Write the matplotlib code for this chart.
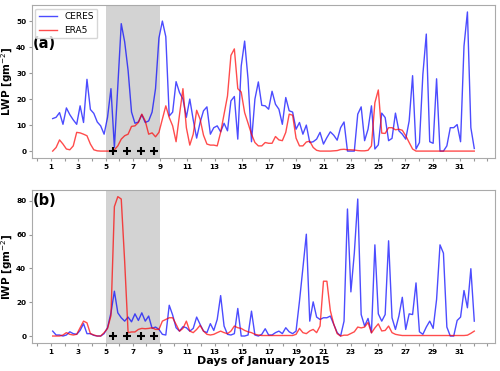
import numpy as np
import matplotlib.pyplot as plt

# 6-hourly values, 1-32 January 2015
days = np.linspace(1.12, 32.05, 124)

lwp_ceres = [12.5, 13, 14.8, 10.3, 16.6, 14, 12, 10.3, 17.4, 11, 27.6, 16, 14.5, 11.2, 9.7, 6.5,
             13, 24, 1.4, 25, 49, 42, 31, 15, 10.7, 11.2, 14, 11, 11.6, 15, 24, 43.5, 50, 44, 13.5,
             15, 26.7, 22.5, 20, 13, 20,
             12, 5, 11, 15.5, 17, 6.5, 9, 9.7, 7.4, 10.7, 7.8, 19.3, 21, 4.6, 32.7, 42.3, 27.6, 3.6,
             20, 26.6, 17.6, 17.4, 16.1, 23, 18, 16.1, 10.3, 20.6, 15.5, 15, 8.4, 11, 6.5, 10, 3.3,
             3.6, 4.6, 7.2, 2.7, 5.2, 7.4, 6.1, 4.2, 9,
             11.2,
             0, 0, 0, 14.2, 17, 4, 8.4, 17.4, 0.8, 2.4, 14.6, 12.9, 4, 4.9, 14.6, 7.8, 6.5, 4.6, 11.6,
             29, 0.8, 3.3, 29.5, 45, 3.6, 3, 27.8, 0, 0, 2, 9, 9, 10.2, 3.6, 40.4, 53.5, 9, 1]

lwp_era5 = [0, 1.4, 4.3, 2.7, 0.8, 0.5, 2, 7.2, 7, 6.5, 5.9, 2.7, 0.5, 0.1, 0, 0, 0, 0, 0.5, 2,
            4.6, 5.9, 6.5, 9.5, 9.7, 11, 14.2, 11.6, 6.5, 7, 5.5, 7.2, 12.3, 17.4, 12.9, 9.7, 3.6, 14,
            24, 9, 2.3, 6.5, 15.7, 12.3, 6.1, 2.7, 2.3, 2.3, 2, 7.2, 14.2, 21.2, 36.8, 39.3, 24, 22.7,
            14.8, 10.7, 6.5, 3.3, 2, 2, 3.3, 3, 3, 5.6, 4.3, 4, 7.2, 14.2, 13.8, 5, 2, 2, 3.5, 3.8,
            1.4, 0.3,
            0, 0, 0, 0, 0.1, 0.2, 0.6, 0.7, 0.5, 0.5, 0.4, 0.2, 0.1, 0.1, 0.3, 2, 18.6, 23.5, 6.9,
            6.8, 9, 9, 8.2, 8.4, 8, 5.9, 3.3, 0.8,
            0, 0, 0, 0, 0, 0, 0, 0, 0, 0, 0, 0, 0, 0, 0, 0, 0, 0]

iwp_ceres = [2.9, 0.6, 0.6, 0, 0.6, 2.5, 1.4, 1, 3.3, 7.3, 1.4, 1.4, 0.4, 0, 0, 1.4, 4.9, 13.7,
             26.5, 13.7, 10.8, 8.8, 11.2, 8.4, 13.1, 9.2, 13.7, 8.8, 11.8, 4.5, 5.3, 3.9, 1, 0.6,
             18.2, 12.4, 4.9,
             2.9, 5.5, 4.9, 2.9, 4.5, 11.2, 6.9, 2.9, 2, 7.3, 3.3, 9.8, 23.9, 5.9, 1, 0.6, 1.4, 16.3,
             0, 0, 0.6, 14.7, 0.6, 0, 1, 4.3, 0.6, 0.6, 2, 2.9, 1.4, 4.9, 2.5, 1.4, 2.9, 20.6, 40.2,
             60.2, 8.8, 20.2, 11.2, 9.8, 10.8, 10.8, 11.8, 6.9, 2, 0,
             8.8, 75.1, 26.1, 49, 81, 12.7, 5.9, 10.4, 2, 53.9, 13.1, 8.8, 12.7, 56.3, 10.8, 3.9,
             11.8, 22.9, 3.9, 13.1, 12.7, 31.4, 2.5, 1, 5.3, 8.8, 4.5, 21.6, 53.9, 49, 5.3, 0, 0,
             9.2, 11.2, 26.9, 16.7, 39.8, 8.8]

iwp_era5 = [0, 0, 0, 0.6, 2, 1, 0.6, 1, 4.9, 8.8, 7.8, 1.4, 0.6, 0, 0, 2, 4.5, 12, 76.5, 82.4, 81,
            44, 2, 2.4, 2.4, 3.9, 4.5, 4.3, 4.5, 4.9, 3.9, 3.9, 8.8, 9.8, 10.8, 10.8, 6.9, 2.9,
            4.5, 8.8, 2.9, 2, 3.9, 6.3, 2.9, 1, 0.6, 1, 2, 2.9, 2, 1.4, 2.9, 5.9, 4.9, 4.5, 3.3, 2.5,
            2, 1, 0.6,
            0.3, 0.3, 0.3, 0.3, 0.3, 0.3, 0.3, 0.3, 0.3, 0.3,
            1, 4.5, 2, 1.4, 3, 3.9, 2, 5.9, 32.4, 32.4, 15, 7, 1.4, 0,
            0.5, 0.5, 1.5, 2.5, 5.3, 4.8, 5.3, 8, 1.8, 4.8, 7.2, 3, 3.3, 5.9, 2, 1, 0.6,
            0.3, 0.3, 0.3, 0.3, 0.3, 0.3, 0.3, 0.3, 0.3, 0.3, 0.3, 0.3, 0.3, 0.3, 0.3, 0.3, 0.3,
            0.3, 0.3,
            0.5, 1.6, 2.9]

event_days = [5.58, 6.58, 7.58, 8.58]
event_window = (5, 9)
tick_days = list(range(0, 34))
tick_labels = [str(d) if d % 2 == 1 and d <= 31 else "" for d in tick_days]


def panel(ax, ceres, era5, ylabel, tag, tag_y):
    ax.axvspan(event_window[0], event_window[1], color="lightgray", zorder=0, lw=0)
    ax.plot(days, ceres, color="blue", alpha=0.7, lw=1, label="CERES")
    ax.plot(days, era5, color="red", alpha=0.7, lw=1, label="ERA5")
    ax.plot(event_days, [0] * len(event_days), "+", color="black", ms=6, mew=1.5)
    ax.set_xlim(-0.42, 33.57)
    ax.set_xticks(tick_days)
    ax.set_xticklabels(tick_labels)
    ax.set_ylabel(ylabel, fontsize=7.5, fontweight="bold")
    ax.yaxis.set_label_coords(-0.037, 0.5)
    ax.tick_params(labelsize=5.2, length=2.5, color="#999999", pad=1.5)
    for lab in ax.get_xticklabels() + ax.get_yticklabels():
        lab.set_fontweight("bold")
    for s in ax.spines.values():
        s.set_color("#aaaaaa")
    ax.text(0.003, tag_y, tag, transform=ax.transAxes, fontsize=10.5,
            fontweight="bold", va="center", ha="left")


fig = plt.figure(figsize=(5, 3.71), dpi=100)
ax1 = fig.add_axes([0.0634, 0.574, 0.9266, 0.4125])
ax2 = fig.add_axes([0.0634, 0.0755, 0.9266, 0.4132])

panel(ax1, lwp_ceres, lwp_era5, "LWP [gm$^{-2}$]", "(a)", 0.75)
panel(ax2, iwp_ceres, iwp_era5, "IWP [gm$^{-2}$]", "(b)", 0.93)

leg = ax1.legend(loc="upper left", fontsize=6.5, borderaxespad=0.4)
leg.get_frame().set_edgecolor("#cccccc")
ax2.set_xlabel("Days of January 2015", fontsize=8, fontweight="bold", labelpad=1)

plt.savefig("out.png", dpi=100)
